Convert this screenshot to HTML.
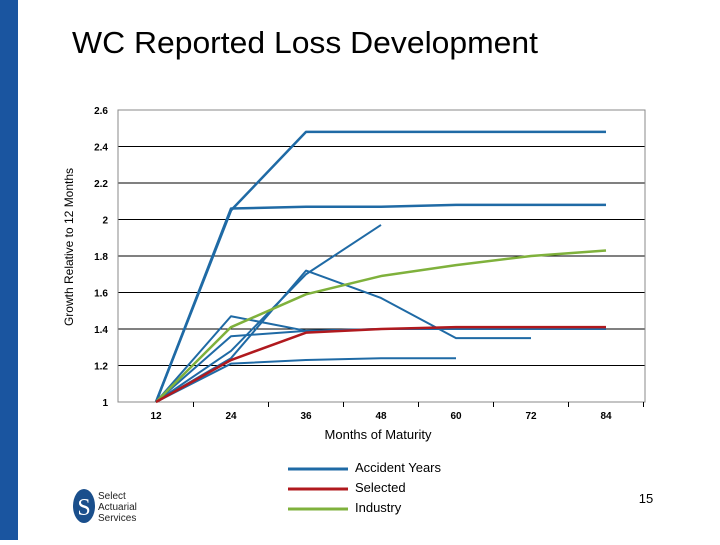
<!DOCTYPE html>
<html><head><meta charset="utf-8"><style>
body{margin:0;width:720px;height:540px;background:#fff;overflow:hidden;font-family:"Liberation Sans",sans-serif}
</style></head><body>
<svg width="720" height="540">
<rect x="0" y="0" width="18" height="540" fill="#1a55a0"/>
<text x="72" y="53" font-size="31" textLength="466" lengthAdjust="spacingAndGlyphs" fill="#000">WC Reported Loss Development</text>
<g id="plot"></g>
<text x="378" y="439" font-size="13" text-anchor="middle">Months of Maturity</text>
<text transform="translate(73,247) rotate(-90)" font-size="12" text-anchor="middle">Growth Relative to 12 Months</text>
<g>
<line x1="288" y1="469" x2="348" y2="469" stroke="#1f6aa5" stroke-width="3"/>
<text x="355" y="472" font-size="13">Accident Years</text>
<line x1="288" y1="489" x2="348" y2="489" stroke="#b0191e" stroke-width="3"/>
<text x="355" y="492" font-size="13">Selected</text>
<line x1="288" y1="509" x2="348" y2="509" stroke="#7fb13c" stroke-width="3"/>
<text x="355" y="512" font-size="13">Industry</text>
</g>
<g>
<ellipse cx="84" cy="506" rx="11" ry="17" fill="#1a4f8c"/>
<text x="84" y="515" font-size="24" fill="#fff" text-anchor="middle" font-family="Liberation Serif">S</text>
<text x="98" y="499" font-size="10" fill="#222">Select</text>
<text x="98" y="510" font-size="10" fill="#222">Actuarial</text>
<text x="98" y="521" font-size="10" fill="#222">Services</text>
</g>
<text x="646" y="503" font-size="13" text-anchor="middle">15</text>
</svg>
<script>
const months=[12,24,36,48,60,72,84];
const yTicks=[1,1.2,1.4,1.6,1.8,2,2.2,2.4,2.6];
const yTickLabels=["1","1.2","1.4","1.6","1.8","2","2.2","2.4","2.6"];
const ay1=[1,2.05,2.48,2.48,2.48,2.48,2.48];
const ay2=[1,2.06,2.07,2.07,2.08,2.08,2.08];
const ay3=[1,1.28,1.70,1.97];
const ay4=[1,1.24,1.72,1.57,1.35,1.35];
const ay5=[1,1.47,1.39,1.40,1.40,1.40,1.40];
const ay6=[1,1.36,1.39,1.40,1.40,1.40,1.40];
const ay7=[1,1.21,1.23,1.24,1.24];
const selected=[1,1.23,1.38,1.40,1.41,1.41,1.41];
const industry=[1,1.41,1.59,1.69,1.75,1.80,1.83];
const X0=118,X1=645,Y0=402,Y1=110;
const xs=m=>156+(m-12)*75/12;
const ys=v=>Y0-(v-1)*(Y0-Y1)/1.6;
const NS="http://www.w3.org/2000/svg";
const g=document.getElementById('plot');
function mk(t,a){const e=document.createElementNS(NS,t);for(const k in a)e.setAttribute(k,a[k]);g.appendChild(e);return e;}
yTicks.forEach((v,i)=>{
 if(i>0&&i<yTicks.length-1){const l=mk('line',{x1:X0,x2:X1,y1:ys(v),y2:ys(v),stroke:'#000','stroke-width':1});
 
 }
 const t=mk('text',{x:108,y:ys(v)+4,'font-size':10,'font-weight':'bold','text-anchor':'end'});t.textContent=yTickLabels[i];
 
 
});
const fr=mk('rect',{x:X0,y:Y1,width:X1-X0,height:Y0-Y1,fill:'none',stroke:'#888','stroke-width':1});


months.forEach(m=>{
 mk('line',{x1:xs(m)+37.5,x2:xs(m)+37.5,y1:Y0,y2:Y0+5,stroke:'#000'});
 const t=mk('text',{x:xs(m),y:419,'font-size':10,'font-weight':'bold','text-anchor':'middle'});t.textContent=m;
 
 
});
function series(d,c,w,name){
 const p=mk('polyline',{points:d.map((v,i)=>xs(months[i])+','+ys(v)).join(' '),fill:'none',stroke:c,'stroke-width':w,'stroke-linejoin':'round'});
 
 
}
[ay1,ay2,ay3,ay4,ay5,ay6,ay7].forEach((d,i)=>series(d,'#1f6aa5',i<2?2.5:2,'accident-year-line'));
series(industry,'#7fb13c',2.5,'industry-line');
series(selected,'#b0191e',2.5,'selected-line');
</script>
</body></html>
